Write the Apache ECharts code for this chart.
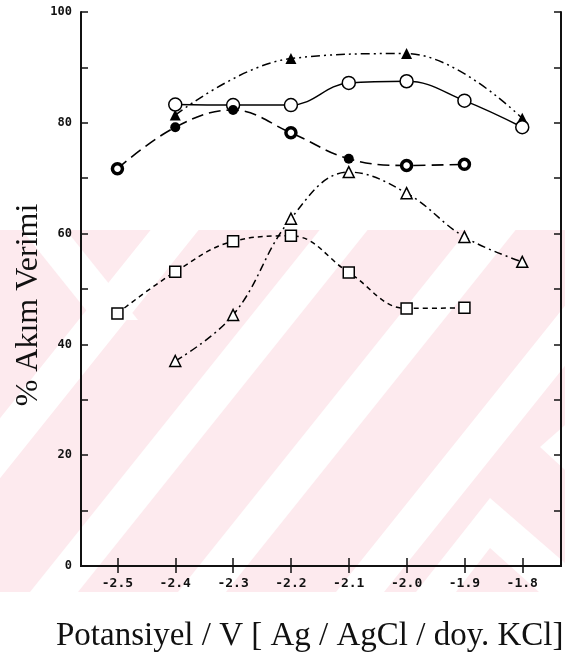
<!DOCTYPE html>
<html>
<head>
<meta charset="utf-8">
<script src="https://cdn.jsdelivr.net/npm/echarts@6/dist/echarts.min.js"></script>
<style>
  html, body { margin: 0; padding: 0; background: #fff; }
  #main { width: 565px; height: 661px; }
</style>
</head>
<body>
<div id="main"></div>
<script>
// x ekseni etiketleri (V)
var potentialTicks = [-2.5, -2.4, -2.3, -2.2, -2.1, -2.0, -1.9, -1.8];
var effTicks = [0, 20, 40, 60, 80, 100];

// dolu ucgen
var filledTriX = [-2.4, -2.2, -2.0, -1.8];
var filledTriY = [81.4, 91.6, 92.5, 80.8];
// bos daire
var openCircX = [-2.4, -2.3, -2.2, -2.1, -2.0, -1.9, -1.8];
var openCircY = [83.3, 83.2, 83.2, 87.2, 87.5, 84.0, 79.2];
// dolu daire
var filledCircX = [-2.5, -2.4, -2.3, -2.2, -2.1, -2.0, -1.9];
var filledCircY = [71.7, 79.2, 82.3, 78.2, 73.5, 72.3, 72.5];
// bos ucgen
var openTriX = [-2.4, -2.3, -2.2, -2.1, -2.0, -1.9, -1.8];
var openTriY = [37.0, 45.3, 62.7, 71.1, 67.3, 59.4, 54.9];
// kare
var squareX = [-2.5, -2.4, -2.3, -2.2, -2.1, -2.0, -1.9];
var squareY = [45.6, 53.1, 58.6, 59.6, 53.0, 46.5, 46.6];

function pairs(xs, ys) {
    return xs.map(function (x, i) { return [x, ys[i]]; });
}

var myChart = echarts.init(document.getElementById('main'));

var tickFont = { fontFamily: 'DejaVu Sans Mono', fontWeight: 'bold', color: '#111' };

// arka plandaki pembe filigran (tez damgasi)
var pink = '#fdeaee';
var wmTop = 230, wmBottom = 592, k = 0.8, w = 48;
function poly(pts) {
    return { type: 'polygon', z: -10, silent: true, shape: { points: pts }, style: { fill: '#fff' } };
}
// alt kenardaki merkezden yukari-saga giden beyaz serit
function band(xb) {
    var xt = xb + (wmBottom - wmTop) * k;
    return poly([[xt - w / 2, wmTop], [xt + w / 2, wmTop], [xb + w / 2, wmBottom], [xb - w / 2, wmBottom]]);
}
var watermark = [
    { type: 'rect', z: -11, silent: true, shape: { x: 0, y: wmTop, width: 565, height: wmBottom - wmTop }, style: { fill: pink } },
    band(-115), band(54), band(202), band(360),
    poly([[22, wmTop], [66, wmTop], [138, 320], [94, 320]]),
    poly([[416, wmBottom], [490, 498], [565, 563], [565, wmBottom], [539, wmBottom], [490, 548], [456, wmBottom]]),
    poly([[540, 447], [565, 425], [565, 470]])
];

var circleRing = { color: '#fff', borderColor: '#000', borderWidth: 3.5 };
var ringAt = [0, 3, 5, 6];

var option = {
    animation: false,
    grid: { left: 81, right: 4, top: 12, bottom: 95, containLabel: false },
    graphic: watermark.concat([
        {
            type: 'text', x: 56, y: 636,
            style: { text: 'Potansiyel / V [ Ag / AgCl / doy. KCl]', font: '33px "Liberation Serif"', fill: '#111', verticalAlign: 'middle' }
        },
        {
            type: 'text', x: 29, y: 305, rotation: Math.PI / 2,
            style: { text: '% Akım Verimi', font: '32px "Liberation Serif"', fill: '#111', align: 'center', verticalAlign: 'middle' }
        }
    ]),
    xAxis: [
        {
            type: 'value', min: -2.563, max: -1.733,
            axisLine: { lineStyle: { color: '#111', width: 2 } },
            axisTick: { inside: true, length: 8, customValues: potentialTicks, lineStyle: { color: '#111', width: 1.5 } },
            axisLabel: Object.assign({ fontSize: 13, margin: 11, customValues: potentialTicks,
                formatter: function (v) { return v.toFixed(1); } }, tickFont),
            splitLine: { show: false }
        },
        {
            type: 'value', position: 'top', min: -2.563, max: -1.733,
            axisLine: { lineStyle: { color: '#111', width: 2 } },
            axisTick: { inside: true, length: 7, customValues: potentialTicks, lineStyle: { color: '#111', width: 1.5 } },
            axisLabel: { show: false },
            splitLine: { show: false }
        }
    ],
    yAxis: [
        {
            type: 'value', min: 0, max: 100, interval: 10,
            axisLine: { show: true, lineStyle: { color: '#111', width: 2 } },
            axisTick: { inside: true, length: 7, lineStyle: { color: '#111', width: 1.5 } },
            axisLabel: Object.assign({ fontSize: 12, margin: 9,
                formatter: function (v) { return effTicks.indexOf(v) >= 0 ? String(v) : ''; } }, tickFont),
            splitLine: { show: false }
        },
        {
            type: 'value', position: 'right', min: 0, max: 100, interval: 10,
            axisLine: { show: true, lineStyle: { color: '#111', width: 2 } },
            axisTick: { inside: true, length: 7, lineStyle: { color: '#111', width: 1.5 } },
            axisLabel: { show: false },
            splitLine: { show: false }
        }
    ],
    series: [
        {
            type: 'line', smooth: 0.4, data: pairs(filledTriX, filledTriY),
            symbol: 'triangle', symbolSize: 11,
            itemStyle: { color: '#000' },
            lineStyle: { color: '#000', width: 1.5, type: [9, 4, 2, 4, 2, 4] }
        },
        {
            type: 'line', smooth: 0.4, data: pairs(openCircX, openCircY),
            symbol: 'circle', symbolSize: 13,
            itemStyle: { color: '#fff', borderColor: '#000', borderWidth: 1.5 },
            lineStyle: { color: '#000', width: 1.5 }
        },
        {
            type: 'line', smooth: 0.4,
            data: pairs(filledCircX, filledCircY).map(function (p, i) {
                return ringAt.indexOf(i) >= 0 ? { value: p, itemStyle: circleRing } : { value: p };
            }),
            symbol: 'circle', symbolSize: 10,
            itemStyle: { color: '#000' },
            lineStyle: { color: '#000', width: 1.6, type: [12, 6] }
        },
        {
            type: 'line', smooth: 0.4, data: pairs(openTriX, openTriY),
            symbol: 'triangle', symbolSize: 11,
            itemStyle: { color: '#fff', borderColor: '#000', borderWidth: 1.5 },
            lineStyle: { color: '#000', width: 1.5, type: [8, 4, 2, 4] }
        },
        {
            type: 'line', smooth: 0.4, data: pairs(squareX, squareY),
            symbol: 'rect', symbolSize: 11,
            itemStyle: { color: '#fff', borderColor: '#000', borderWidth: 1.5 },
            lineStyle: { color: '#000', width: 1.5, type: [5, 4] }
        }
    ]
};

myChart.setOption(option);
</script>
</body>
</html>
